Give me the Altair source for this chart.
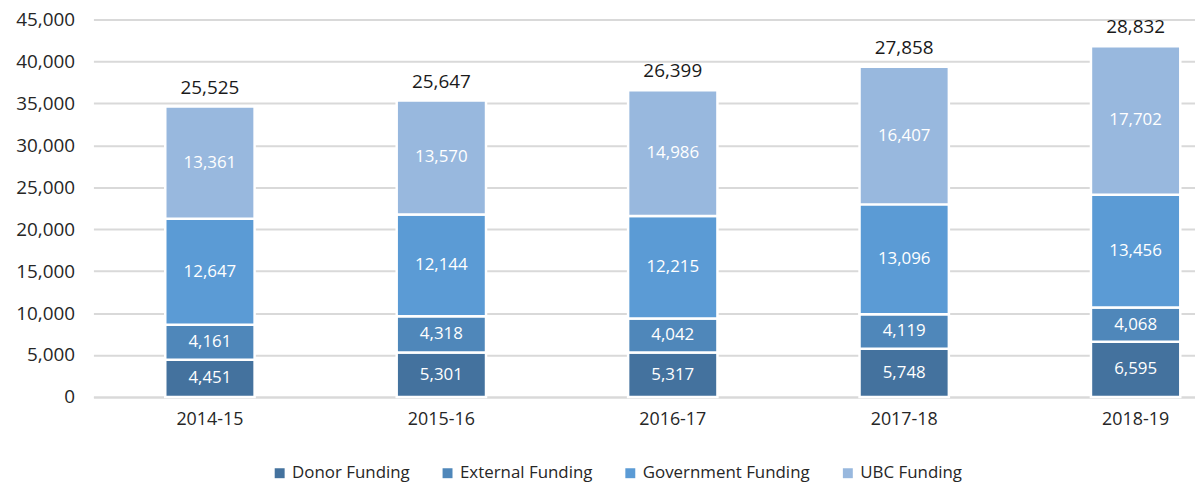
import altair as alt
import pandas as pd

years = ["2014-15", "2015-16", "2016-17", "2017-18", "2018-19"]
series = ["Donor Funding", "External Funding", "Government Funding", "UBC Funding"]
donor = [4451, 5301, 5317, 5748, 6595]
external = [4161, 4318, 4042, 4119, 4068]
government = [12647, 12144, 12215, 13096, 13456]
ubc = [13361, 13570, 14986, 16407, 17702]
totals_label = [25525, 25647, 26399, 27858, 28832]
colors = ["#44729e", "#4f87ba", "#5b9bd5", "#98b8de"]
y_ticks = [0, 5000, 10000, 15000, 20000, 25000, 30000, 35000, 40000, 45000]

FONT = "Open Sans"

rows = []
for si, (name, vals) in enumerate(zip(series, [donor, external, government, ubc])):
    for yr, v in zip(years, vals):
        rows.append({"year": yr, "series": name, "order": si, "value": v})
df = pd.DataFrame(rows)

tot = pd.DataFrame({
    "year": years,
    "stack": [d + e + g + u for d, e, g, u in zip(donor, external, government, ubc)],
    "label": totals_label,
})

xscale = alt.Scale(paddingInner=0.614, paddingOuter=0.187, align=0.83)
yscale = alt.Scale(domain=[0, 45000], nice=False)

x = alt.X("year:N", scale=xscale, sort=years, title=None,
          axis=alt.Axis(labelAngle=0, labelFont=FONT, labelFontSize=18, labelColor="#262626",
                        labelPadding=14, ticks=False, domain=True, domainColor="#d9d9d9",
                        domainWidth=2, grid=False))

base = alt.Chart(df)

bars = base.mark_bar(stroke="white", strokeWidth=2.5).encode(
    x=x,
    y=alt.Y("value:Q", stack="zero", scale=yscale, title=None,
            axis=alt.Axis(values=y_ticks, labelExpr="format(datum.value, ',')",
                          labelFont=FONT, labelFontSize=19,
                          labelColor="#262626", labelPadding=19, ticks=False, domain=False,
                          grid=True, gridColor="#d9d9d9", gridWidth=2)),
    color=alt.Color("series:N", sort=series,
                    scale=alt.Scale(domain=series, range=colors),
                    legend=alt.Legend(title=None, orient="none", legendX=179, legendY=448,
                                      direction="horizontal", columns=4, columnPadding=29,
                                      symbolType="square", symbolSize=100, symbolStrokeWidth=0,
                                      symbolOpacity=1, labelFont=FONT, labelFontSize=17,
                                      labelLimit=400,
                                      labelColor="#262626", labelOffset=4, padding=0)),
    order=alt.Order("order:Q"),
)

inner = base.mark_text(color="white", font=FONT, fontSize=17, baseline="middle").encode(
    x=alt.X("year:N", scale=xscale, sort=years),
    y=alt.Y("value:Q", stack="zero", bandPosition=0.5, scale=yscale),
    text=alt.Text("value:Q", format=","),
    order=alt.Order("order:Q"),
)

top = alt.Chart(tot).mark_text(color="#1a1a1a", font=FONT, fontSize=19, baseline="bottom", dy=-9).encode(
    x=alt.X("year:N", scale=xscale, sort=years),
    y=alt.Y("stack:Q", scale=yscale),
    text=alt.Text("label:Q", format=","),
)

chart = alt.layer(bars, inner, top).properties(
    width=1109, height=380,
    autosize=alt.AutoSizeParams(type="none"),
    padding={"left": 86, "top": 10, "right": 0, "bottom": 86},
).configure_view(stroke=None)

chart.save("out.html", embed_options={"renderer": "svg", "actions": False})
